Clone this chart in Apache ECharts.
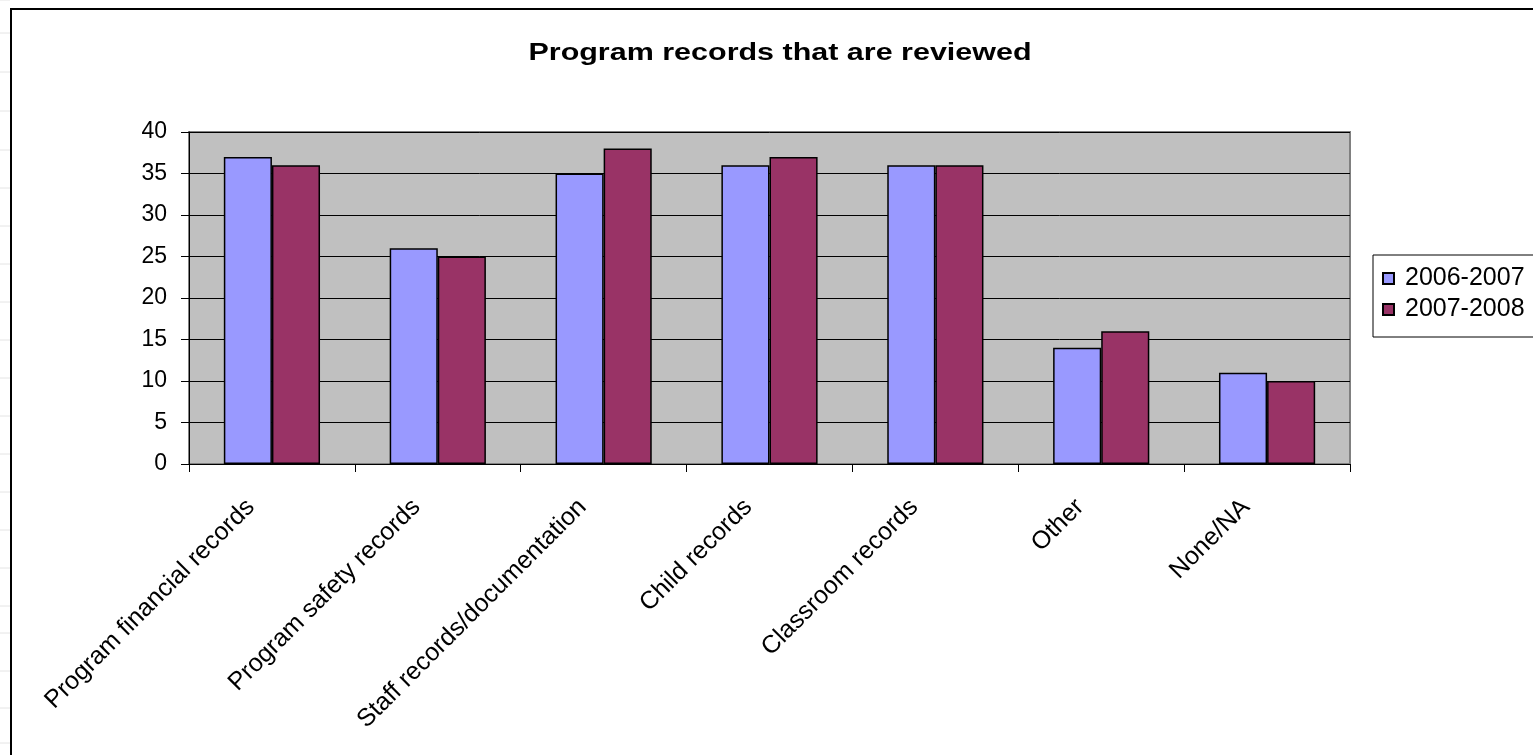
<!DOCTYPE html>
<html>
<head>
<meta charset="utf-8">
<script src="https://cdn.jsdelivr.net/npm/echarts@6/dist/echarts.min.js"></script>
<style>
  html, body { margin: 0; padding: 0; background: #ffffff; }
  #chart { width: 1533px; height: 755px; }
</style>
</head>
<body>
<div id="chart"></div>
<script>
// Record types reviewed by programs, counted per school year
const categories = [
  'Program financial records',
  'Program safety records',
  'Staff records/documentation',
  'Child records',
  'Classroom records',
  'Other',
  'None/NA'
];
const seriesNames = ['2006-2007', '2007-2008'];
const values2006 = [37, 26, 35, 36, 36, 14, 11];
const values2007 = [36, 25, 38, 37, 36, 16, 10];
const yTicks = { min: 0, max: 40, interval: 5 };
const chartTitle = 'Program records that are reviewed';

const chart = echarts.init(document.getElementById('chart'), null, { renderer: 'canvas' });

const font = 'Arial, "Liberation Sans", sans-serif';

// faint worksheet rows along the left edge
const sheetLines = [];
[0, 33, 72, 111, 150, 188, 226, 264, 302, 340, 378, 416, 454, 492, 530, 568, 606, 633, 671, 708, 743].forEach(function (y) {
  sheetLines.push({
    type: 'line',
    shape: { x1: 0, y1: y, x2: 10, y2: y },
    style: { stroke: '#e4e4e4', lineWidth: 1 },
    silent: true
  });
});

chart.setOption({
  backgroundColor: '#ffffff',
  animation: false,
  graphic: sheetLines.concat([
    {
      type: 'rect',
      shape: { x: 11, y: 9, width: 1600, height: 800 },
      style: { fill: 'none', stroke: '#000000', lineWidth: 2 },
      silent: true
    },
    {
      // wide, bold chart heading
      type: 'text',
      x: 780,
      y: 53,
      scaleX: 1.27,
      style: {
        text: chartTitle,
        font: 'bold 24px ' + font,
        fill: '#000000',
        textAlign: 'center',
        textVerticalAlign: 'middle'
      },
      silent: true
    }
  ]),
  legend: {
    orient: 'vertical',
    left: 1373,
    top: 255,
    width: 200,
    itemWidth: 11,
    itemHeight: 11,
    itemGap: 6,
    padding: [11, 50, 15, 9],
    borderColor: '#000000',
    borderWidth: 1,
    icon: 'rect',
    textStyle: { fontFamily: font, fontSize: 25, color: '#000000', padding: [0, 0, 0, 6] },
    data: seriesNames
  },
  grid: {
    left: 189,
    top: 132,
    width: 1161,
    height: 332,
    show: true,
    backgroundColor: '#c0c0c0',
    borderColor: '#808080',
    borderWidth: 2
  },
  xAxis: {
    type: 'category',
    data: categories,
    axisLine: { show: true, lineStyle: { color: '#000000', width: 1 } },
    axisTick: { show: true, length: 8, lineStyle: { color: '#000000' } },
    axisLabel: {
      rotate: 45,
      margin: 18,
      padding: [0, 30, 0, 0],
      fontFamily: font,
      fontSize: 25,
      color: '#000000'
    }
  },
  yAxis: {
    type: 'value',
    min: yTicks.min,
    max: yTicks.max,
    interval: yTicks.interval,
    axisLine: { show: true, lineStyle: { color: '#000000', width: 1 } },
    axisTick: { show: true, length: 8, lineStyle: { color: '#000000' } },
    axisLabel: { margin: 22, fontFamily: font, fontSize: 23, color: '#000000' },
    splitLine: { show: true, lineStyle: { color: '#000000', width: 1 } }
  },
  series: [
    {
      name: seriesNames[0],
      type: 'bar',
      data: values2006,
      barGap: '0%',
      barCategoryGap: '42%',
      itemStyle: { color: '#9999ff', borderColor: '#000000', borderWidth: 1.5 }
    },
    {
      name: seriesNames[1],
      type: 'bar',
      data: values2007,
      barGap: '0%',
      barCategoryGap: '42%',
      itemStyle: { color: '#993366', borderColor: '#000000', borderWidth: 1.5 }
    }
  ]
});
</script>
</body>
</html>
